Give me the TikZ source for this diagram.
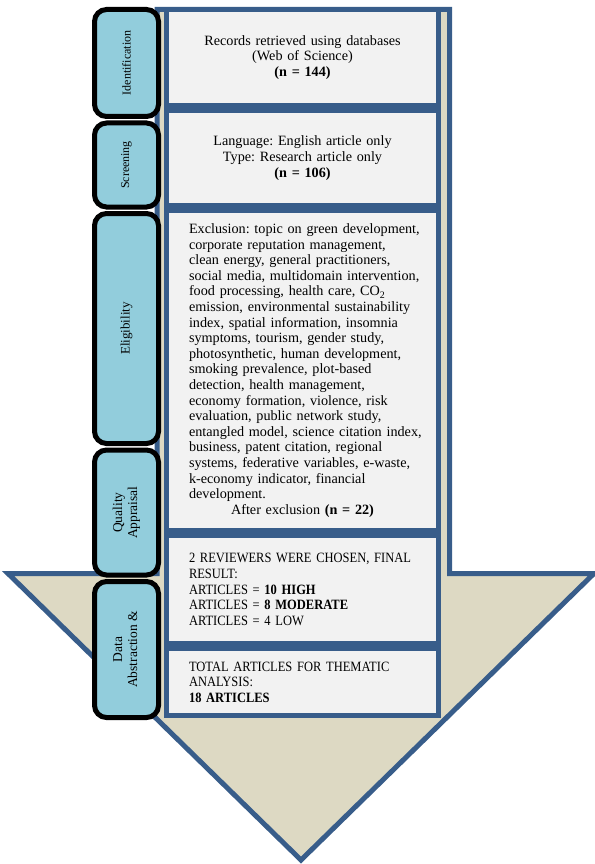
\documentclass[tikz,border=0pt]{standalone}
\usepackage{fontspec}
\setmainfont{Liberation Serif}
\newfontfamily\capsfont[FakeStretch=0.88]{Liberation Serif}
\usetikzlibrary{positioning}
\definecolor{arrowblue}{HTML}{385D8A}
\definecolor{arrowbeige}{HTML}{DDD9C3}
\definecolor{boxgray}{HTML}{F2F2F2}
\definecolor{tabblue}{HTML}{92CDDC}
\tikzset{
  stagebox/.style={draw=arrowblue, fill=boxgray, line width=5pt, minimum width=272pt,
    text width=247pt, inner sep=0pt, font=\fontsize{14.2}{15.6}\selectfont\frenchspacing},
  stagetab/.style={draw=black, fill=tabblue, line width=5pt, rounded corners=12pt,
    minimum width=64pt, inner sep=0pt},
}

\begin{document}
\begin{tikzpicture}[x=1pt,y=-1pt]
		%%%%% START %%%%%
		\useasboundingbox (0,0) rectangle (594,864);
		
		% big arrow
		\draw[line width=5pt, color=arrowblue, fill=arrowbeige] (157,9.5) -- (449.5,9.5) -- (449.5,573.5) -- (594,573.5) -- (301,860) -- (8,573.5) -- (157,573.5) -- cycle;
		
		% stage boxes
		\node[stagebox, align=center, minimum height=96pt, anchor=north] (recbox) at (302.5,7) {Records retrieved using databases\\(Web of Science)\\\textbf{(n = 144)}};
		\node[stagebox, align=center, minimum height=95pt, below=0pt of recbox] (langbox) {Language: English article only\\Type: Research article only\\\textbf{(n = 106)}};
		\node[stagebox, align=left, minimum height=320pt, below=0pt of langbox] (exclbox) {\leftskip=10pt Exclusion: topic on green development,\\
			corporate reputation management,\\
			clean energy, general practitioners,\\
			social media, multidomain intervention,\\
			food processing, health care, CO\textsubscript{2}\\
			emission, environmental sustainability\\
			index, spatial information, insomnia\\
			symptoms, tourism, gender study,\\
			photosynthetic, human development,\\
			smoking prevalence, plot-based\\
			detection, health management,\\
			economy formation, violence, risk\\
			evaluation, public network study,\\
			entangled model, science citation index,\\
			business, patent citation, regional\\
			systems, federative variables, e-waste,\\
			k-economy indicator, financial\\
			development.\par
			{\centering After exclusion \textbf{(n = 22)}\par}};
		\node[stagebox, align=left, minimum height=108pt, below=0pt of exclbox] (revbox) {\leftskip=10pt\capsfont 2 REVIEWERS WERE CHOSEN, FINAL\\RESULT:\\ARTICLES = \textbf{10 HIGH}\\ARTICLES = \textbf{8 MODERATE}\\ARTICLES = 4 LOW\par};
		\node[stagebox, align=left, minimum height=67pt, below=0pt of revbox] (totbox) {\leftskip=10pt\capsfont TOTAL ARTICLES FOR THEMATIC\\ANALYSIS:\\\textbf{18 ARTICLES}\par};
		
		% stage tabs
		\node[stagetab, minimum height=107pt, anchor=north] (identtab) at (126.5,7) {\rotatebox{90}{\fontsize{12}{14}\selectfont Identification}};
		\node[stagetab, minimum height=84pt, below=1.5pt of identtab] (screentab) {\rotatebox{90}{\fontsize{12}{14}\selectfont Screening}};
		\node[stagetab, minimum height=230pt, below=1.5pt of screentab] (eligtab) {\rotatebox{90}{\fontsize{13}{15}\selectfont Eligibility}};
		\node[stagetab, minimum height=125pt, below=1.5pt of eligtab] (qualtab) {\rotatebox{90}{\fontsize{13.5}{15}\selectfont\begin{tabular}{@{}c@{}}Quality\\Appraisal\end{tabular}}};
		\node[stagetab, minimum height=136pt, below=1.5pt of qualtab] (datatab) {\rotatebox{90}{\fontsize{13.5}{15}\selectfont\begin{tabular}{@{}c@{}}Data\\Abstraction \&\end{tabular}}};
		
		%%%%% END %%%%%
\end{tikzpicture}
\end{document}
